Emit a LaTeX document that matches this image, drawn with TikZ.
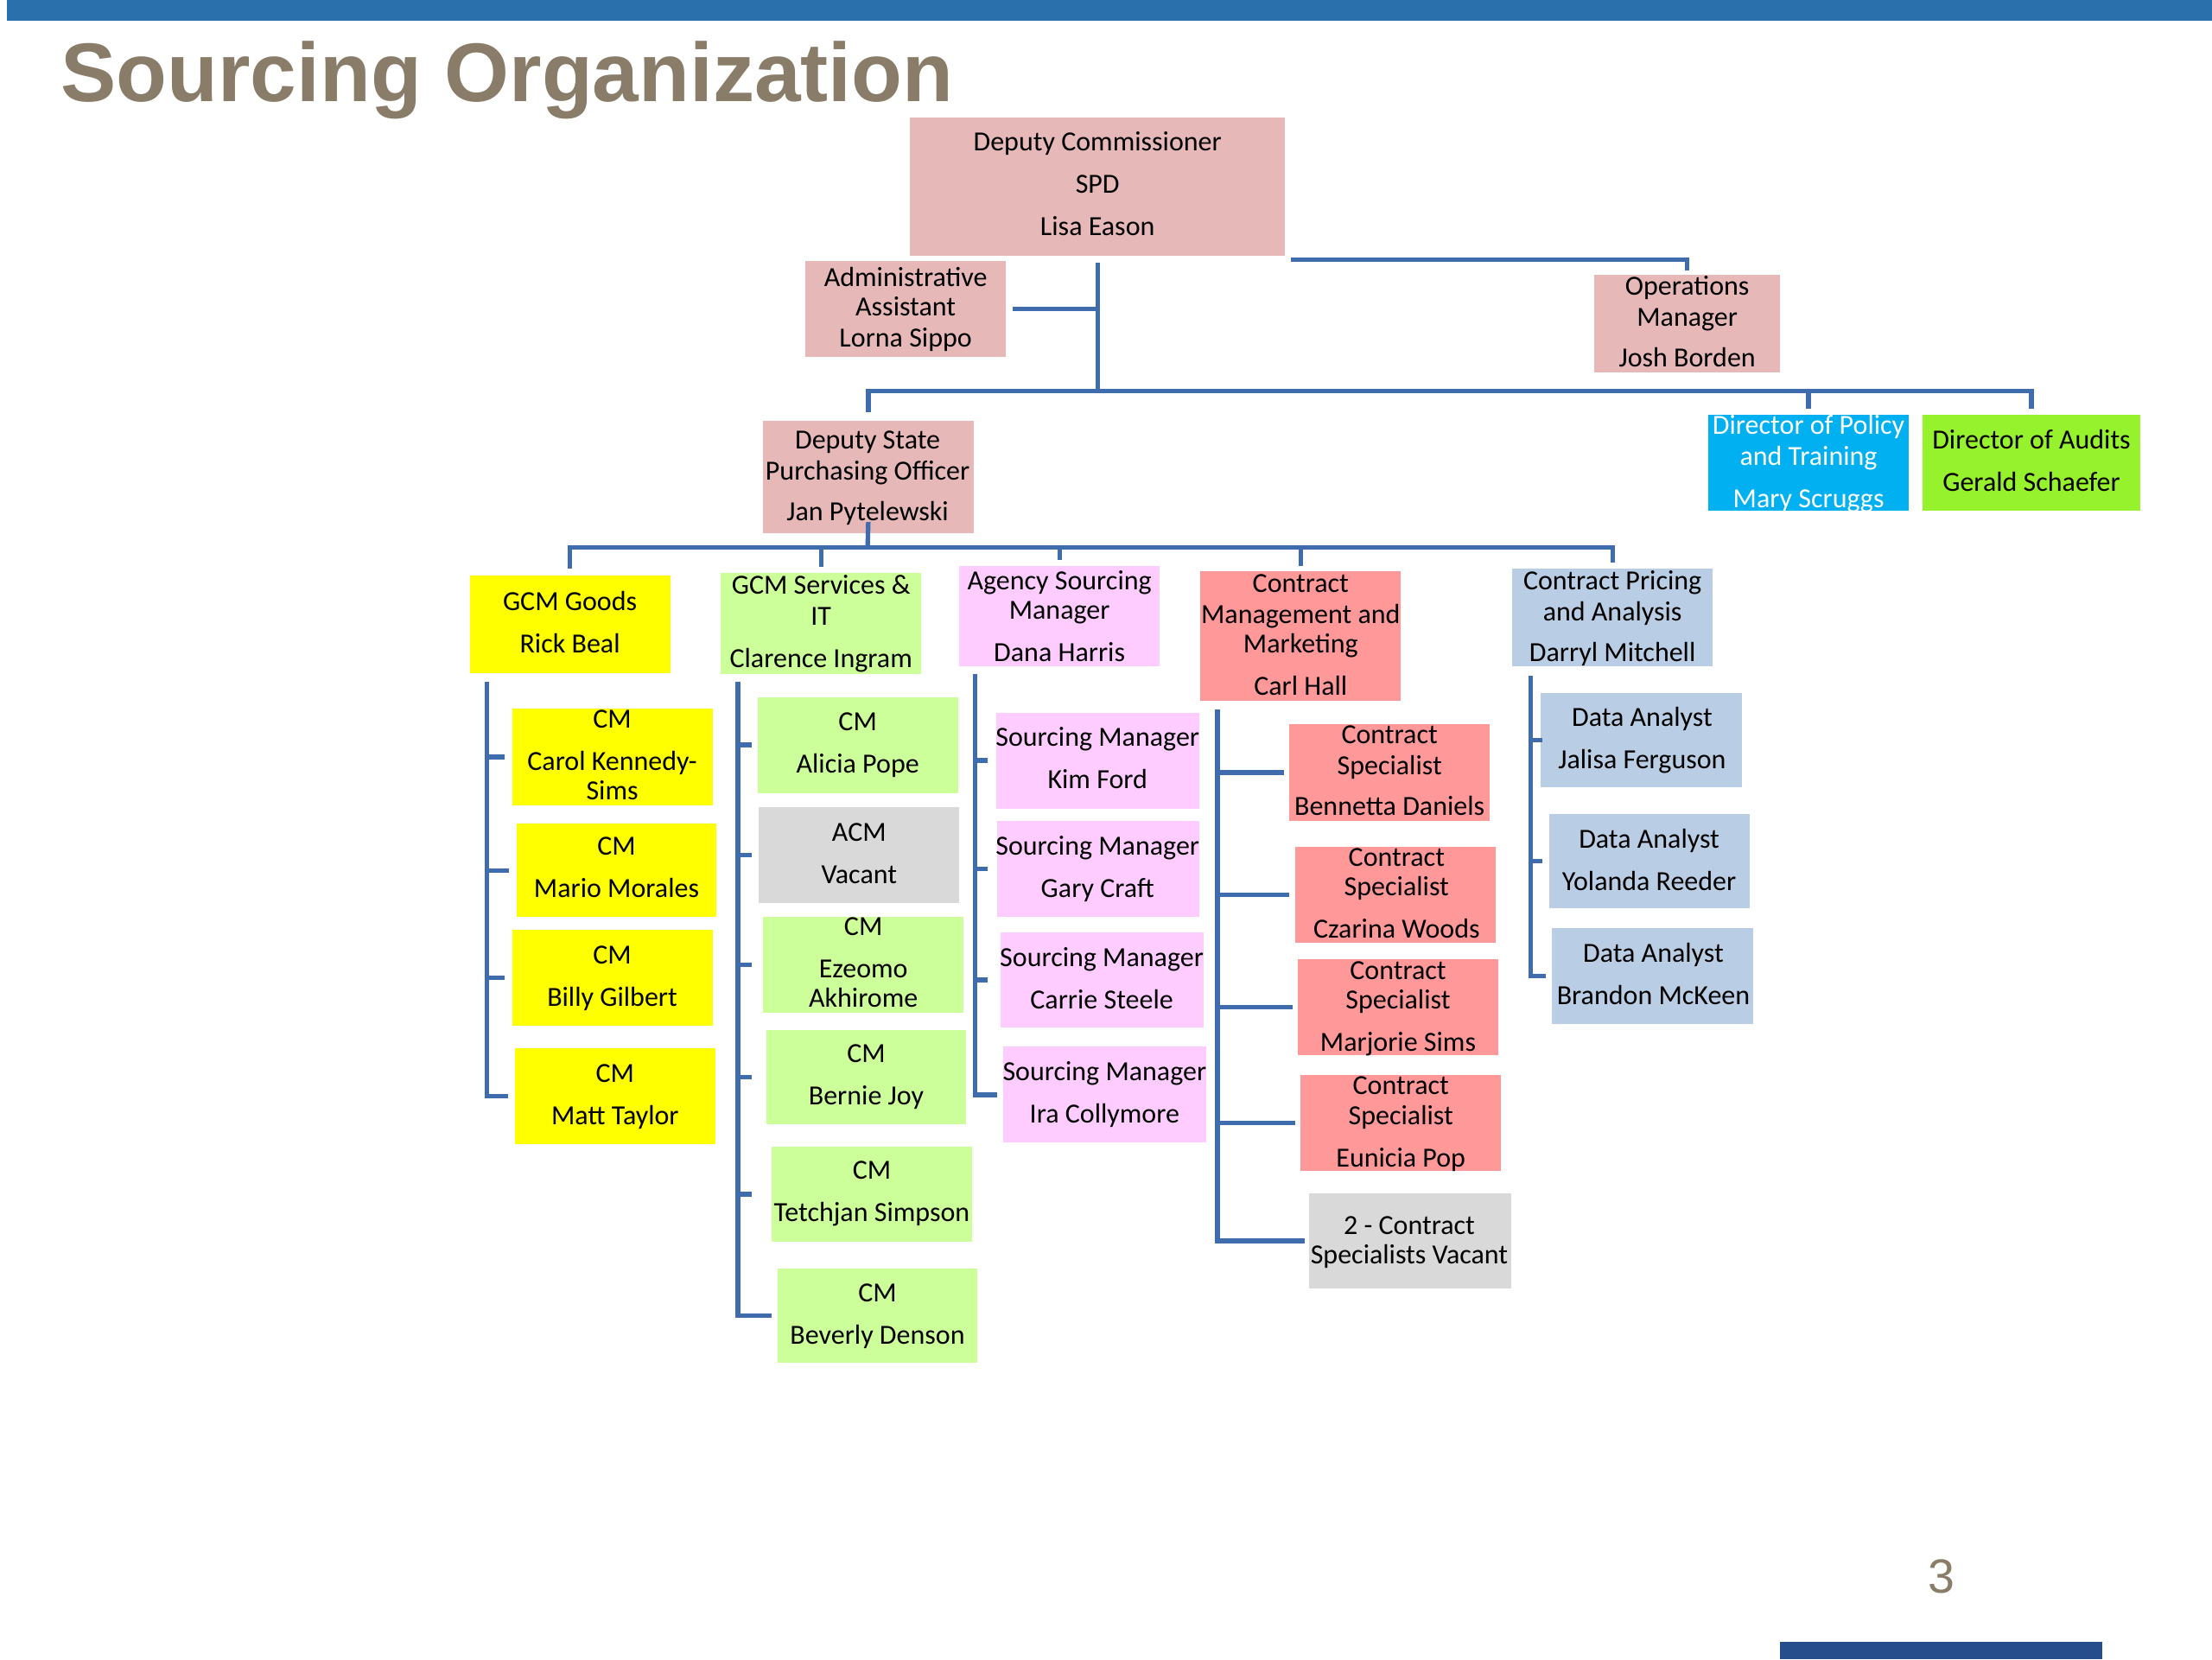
\documentclass[tikz,border=0pt]{standalone}
\usepackage{fontspec}
\setmainfont{Carlito}
\newfontfamily\titlefont{Liberation Sans}
\definecolor{pinkA}{RGB}{230,184,183}
\definecolor{cyanA}{RGB}{0,176,240}
\definecolor{limeA}{RGB}{150,242,45}
\definecolor{yellowA}{RGB}{255,255,0}
\definecolor{greenL}{RGB}{204,255,153}
\definecolor{pinkL}{RGB}{255,204,255}
\definecolor{salmonA}{RGB}{255,153,153}
\definecolor{blueG}{RGB}{185,205,229}
\definecolor{grayA}{RGB}{217,217,217}
\definecolor{lineblue}{RGB}{62,108,172}
\definecolor{barblue}{RGB}{42,112,172}
\definecolor{darkblue}{RGB}{38,78,140}
\definecolor{titlegray}{RGB}{137,124,104}
\newcommand\obox[6]{\node[box,fill=#6,minimum width={(#4-#2)*1pt},minimum height={(#5-#3)*1pt}] (#1) at ({(#2+#4)/2},{(#3+#5)/2}) {};}
\newcommand\tline[5][]{\node[txt,#1] (#2) at (#3,{#4+6}) {#5};}
\begin{document}
\begin{tikzpicture}[x=1pt,y=-1pt,
  box/.style={draw=none,inner sep=0pt,outer sep=0pt},
  txt/.style={inner sep=0pt,anchor=base,font=\fontsize{19.6}{22}\selectfont},
  conn/.style={draw=lineblue,line width=3.2pt}]
\useasboundingbox (0,0) rectangle (1568,1176);
% bars, title, page number
\obox{topbar}{5}{0}{1568}{15}{barblue}
\obox{botbar}{1262}{1164}{1490}{1176}{darkblue}
\node[anchor=base west,inner sep=0pt,font=\titlefont\bfseries\fontsize{59}{60}\selectfont,text=titlegray] (title) at (43,72) {Sourcing Organization};
\node[anchor=base,inner sep=0pt,font=\titlefont\fontsize{34}{36}\selectfont,text=titlegray] (pg) at (1376,1129) {3};
% top level
\obox{dc}{645}{83}{911}{181}{pinkA}
\tline{dca}{778}{101}{Deputy Commissioner}
\tline{dcb}{778}{131}{SPD}
\tline{dcc}{778}{161}{Lisa Eason}
\obox{adm}{571}{185}{713}{253}{pinkA}
\tline{adma}{642}{197}{Administrative}
\tline{admb}{642}{218}{Assistant}
\tline{admc}{642}{240}{Lorna Sippo}
\obox{ops}{1130}{195}{1262}{264}{pinkA}
\tline{opsa}{1196}{203}{Operations}
\tline{opsb}{1196}{225}{Manager}
\tline{opsc}{1196}{254}{Josh Borden}
\obox{dspo}{541}{298}{690}{378}{pinkA}
\tline{dspoa}{615}{312}{Deputy State}
\tline{dspob}{615}{334}{Purchasing Officer}
\tline{dspoc}{615}{363}{Jan Pytelewski}
\obox{pol}{1211}{294}{1353}{362}{cyanA}
\tline[text=white]{pola}{1282}{302}{Director of Policy}
\tline[text=white]{polb}{1282}{324}{and Training}
\tline[text=white]{polc}{1282}{354}{Mary Scruggs}
\obox{aud}{1363}{294}{1517}{362}{limeA}
\tline{auda}{1440}{312}{Director of Audits}
\tline{audb}{1440}{342}{Gerald Schaefer}
% second row
\obox{goods}{333}{408}{475}{477}{yellowA}
\tline{goodsa}{404}{427}{GCM Goods}
\tline{goodsb}{404}{457}{Rick Beal}
\obox{svc}{511}{406}{653}{478}{greenL}
\tline{svca}{582}{415}{GCM Services \&}
\tline{svcb}{582}{437}{IT}
\tline{svcc}{582}{467}{Clarence Ingram}
\obox{agy}{680}{401}{822}{472}{pinkL}
\tline{agya}{751}{412}{Agency Sourcing}
\tline{agyb}{751}{433}{Manager}
\tline{agyc}{751}{463}{Dana Harris}
\obox{cmm}{851}{405}{993}{497}{salmonA}
\tline{cmma}{922}{414}{Contract}
\tline{cmmb}{922}{436}{Management and}
\tline{cmmc}{922}{457}{Marketing}
\tline{cmmd}{922}{487}{Carl Hall}
\obox{prc}{1072}{403}{1214}{472}{blueG}
\tline{prca}{1143}{412}{Contract Pricing}
\tline{prcb}{1143}{434}{and Analysis}
\tline{prcc}{1143}{463}{Darryl Mitchell}
% column 1
\obox{g1}{363}{502}{505}{571}{yellowA}
\tline{g1a}{434}{510}{CM}
\tline{g1b}{434}{540}{Carol Kennedy-}
\tline{g1c}{434}{561}{Sims}
\obox{g2}{366}{584}{508}{650}{yellowA}
\tline{g2a}{437}{600}{CM}
\tline{g2b}{437}{630}{Mario Morales}
\obox{g3}{363}{659}{505}{727}{yellowA}
\tline{g3a}{434}{677}{CM}
\tline{g3b}{434}{707}{Billy Gilbert}
\obox{g4}{365}{743}{507}{811}{yellowA}
\tline{g4a}{436}{761}{CM}
\tline{g4b}{436}{791}{Matt Taylor}
% column 2
\obox{s1}{537}{494}{679}{562}{greenL}
\tline{s1a}{608}{512}{CM}
\tline{s1b}{608}{542}{Alicia Pope}
\obox{s2}{538}{572}{680}{640}{grayA}
\tline{s2a}{609}{590}{ACM}
\tline{s2b}{609}{620}{Vacant}
\obox{s3}{541}{650}{683}{718}{greenL}
\tline{s3a}{612}{657}{CM}
\tline{s3b}{612}{687}{Ezeomo}
\tline{s3c}{612}{708}{Akhirome}
\obox{s4}{543}{730}{685}{797}{greenL}
\tline{s4a}{614}{747}{CM}
\tline{s4b}{614}{777}{Bernie Joy}
\obox{s5}{547}{813}{689}{880}{greenL}
\tline{s5a}{618}{830}{CM}
\tline{s5b}{618}{860}{Tetchjan Simpson}
\obox{s6}{551}{899}{693}{966}{greenL}
\tline{s6a}{622}{917}{CM}
\tline{s6b}{622}{947}{Beverly Denson}
% column 3
\obox{a1}{706}{505}{850}{573}{pinkL}
\tline{a1a}{778}{523}{Sourcing Manager}
\tline{a1b}{778}{553}{Kim Ford}
\obox{a2}{707}{582}{850}{650}{pinkL}
\tline{a2a}{778}{600}{Sourcing Manager}
\tline{a2b}{778}{630}{Gary Craft}
\obox{a3}{709}{661}{853}{728}{pinkL}
\tline{a3a}{781}{679}{Sourcing Manager}
\tline{a3b}{781}{709}{Carrie Steele}
\obox{a4}{711}{742}{855}{810}{pinkL}
\tline{a4a}{783}{760}{Sourcing Manager}
\tline{a4b}{783}{790}{Ira Collymore}
% column 4
\obox{c1}{914}{513}{1056}{582}{salmonA}
\tline{c1a}{985}{521}{Contract}
\tline{c1b}{985}{543}{Specialist}
\tline{c1c}{985}{572}{Bennetta Daniels}
\obox{c2}{918}{600}{1060}{668}{salmonA}
\tline{c2a}{990}{608}{Contract}
\tline{c2b}{990}{629}{Specialist}
\tline{c2c}{990}{659}{Czarina Woods}
\obox{c3}{920}{680}{1062}{748}{salmonA}
\tline{c3a}{991}{688}{Contract}
\tline{c3b}{991}{709}{Specialist}
\tline{c3c}{991}{739}{Marjorie Sims}
\obox{c4}{922}{762}{1064}{830}{salmonA}
\tline{c4a}{993}{770}{Contract}
\tline{c4b}{993}{791}{Specialist}
\tline{c4c}{993}{821}{Eunicia Pop}
\obox{c5}{928}{846}{1071}{913}{grayA}
\tline{c5a}{999}{869}{2 - Contract}
\tline{c5b}{999}{890}{Specialists Vacant}
% column 5
\obox{p1}{1092}{491}{1235}{558}{blueG}
\tline{p1a}{1164}{509}{Data Analyst}
\tline{p1b}{1164}{539}{Jalisa Ferguson}
\obox{p2}{1098}{577}{1240}{644}{blueG}
\tline{p2a}{1169}{595}{Data Analyst}
\tline{p2b}{1169}{625}{Yolanda Reeder}
\obox{p3}{1100}{658}{1243}{726}{blueG}
\tline{p3a}{1172}{676}{Data Analyst}
\tline{p3b}{1172}{706}{Brandon McKeen}
% connectors top
\coordinate (t1) at (778,186);
\coordinate (t2) at (778,277);
\draw[conn] (t1) -- (t2);
\draw[conn] ([xshift=4pt,yshift=-3pt]dc.south east) -| ([yshift=3pt]ops.north);
\draw[conn] ([xshift=5pt]adm.east) -- (adm.east -| t1);
\draw[conn] ([yshift=6pt]dspo.north) |- (t2) -| ([yshift=4pt]aud.north);
\draw[conn] ([yshift=4pt]pol.north) -- (pol.north |- t2);
% connectors second level
\coordinate (b0) at (615,388);
\draw[conn] ([yshift=8pt]dspo.south) -- (b0);
\draw[conn] ([yshift=5pt]goods.north) |- (b0) -| ([yshift=4pt]prc.north);
\draw[conn] ([yshift=4pt]svc.north) -- (svc.north |- b0);
\draw[conn] ([yshift=4pt]agy.north) -- (agy.north |- b0);
\draw[conn] ([yshift=4pt]cmm.north) -- (cmm.north |- b0);
% column connectors
\coordinate (v1) at (345,483);
\draw[conn] (v1) |- ([xshift=-5pt]g4.west);
\foreach \n in {g1,g2,g3} \draw[conn] (v1 |- \n.west) -- ([xshift=-5pt]\n.west);
\coordinate (v2) at (523,483);
\draw[conn] (v2) |- ([xshift=-4pt]s6.west);
\foreach \n in {s1,s2,s3,s4,s5} \draw[conn] (v2 |- \n.west) -- ++(10,0);
\coordinate (v3) at (691,478);
\draw[conn] (v3) |- ([xshift=-4pt]a4.west);
\foreach \n in {a1,a2,a3} \draw[conn] (v3 |- \n.west) -- ++(9,0);
\coordinate (v4) at (863,503);
\draw[conn] (v4) |- ([xshift=-3pt]c5.west);
\foreach \n in {c1,c2,c3,c4} \draw[conn] (v4 |- \n.west) -- ([xshift=-4pt]\n.west);
\coordinate (v5) at (1085,479);
\draw[conn] (v5) |- ([xshift=-4pt]p3.west);
\foreach \n in {p1,p2} \draw[conn] (v5 |- \n.west) -- ++(8,0);
\end{tikzpicture}
\end{document}
